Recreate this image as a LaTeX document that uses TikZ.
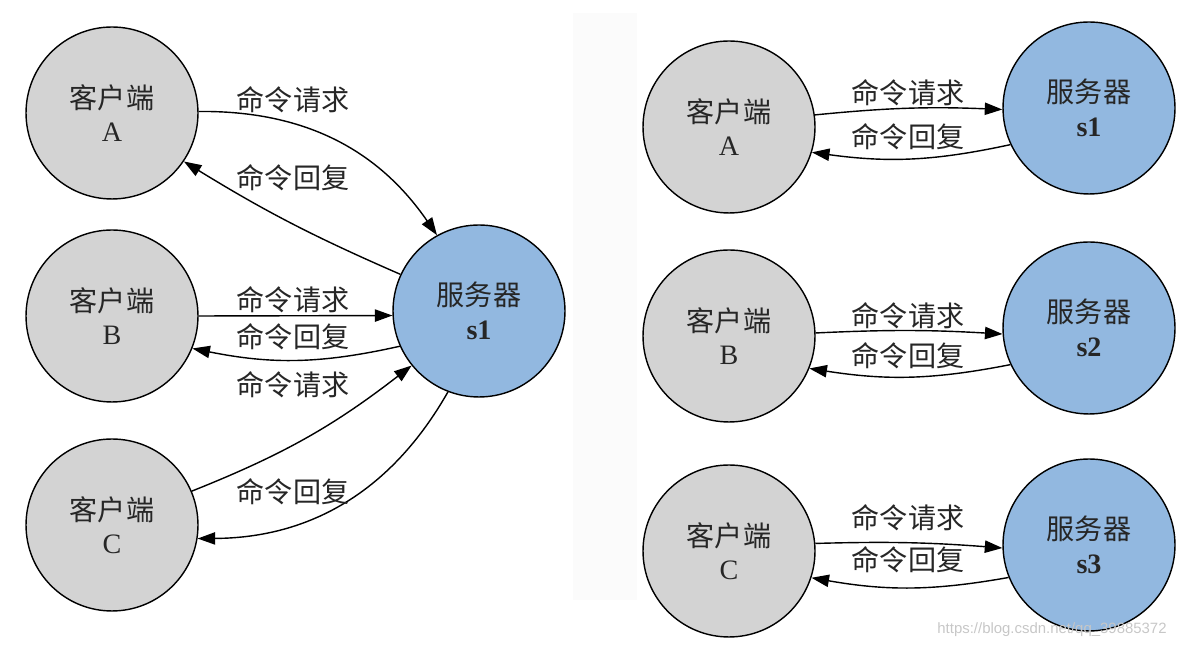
\documentclass[tikz,border=0pt]{standalone}
\usepackage{fontspec}
\setmainfont{Liberation Serif}
\newfontfamily\cjk{Noto Sans CJK SC}
\newfontfamily\wmfont{Liberation Sans}
\usepackage{xcolor}
\usepackage{tikz}
\usetikzlibrary{arrows.meta}

\definecolor{clientgray}{RGB}{211,211,211}
\definecolor{serverblue}{RGB}{146,184,224}

\begin{document}
\begin{tikzpicture}[
  x=0.02cm, y=0.02cm,
  client/.style={
    circle,
    draw=black,
    fill=clientgray,
    minimum size=3.44cm,
    inner sep=0pt,
    line width=0.8pt,
    align=center,
    text=black!85,
    font=\fontsize{16}{19}\selectfont
  },
  server/.style={
    client,
    fill=serverblue
  },
  msg/.style={
    font=\cjk\fontsize{16}{19}\selectfont,
    text=black!85,
    inner sep=0pt
  },
  connection/.style={
    -{Triangle[length=10pt,width=7pt]},
    line width=0.8pt,
    draw=black
  }
]
\useasboundingbox (0,0) rectangle (1183,648);
\fill[black!1.5] (573,635) rectangle (637,48);

% Left: three clients sharing one server
\node[client] (ca) at (112,535) {{\cjk 客户端}\\A};
\node[client] (cb) at (112,332) {{\cjk 客户端}\\B};
\node[client] (cc) at (112,123) {{\cjk 客户端}\\C};
\node[server] (sv) at (479,337) {{\cjk 服务器}\\\textbf{s1}};

\draw[connection] (ca.1) to[bend left=28] (sv.119);
\draw[connection] (sv.155) to[bend left=4] (ca.-34);
\draw[connection] (cb.0) -- (sv.183);
\draw[connection] (sv.204) to[bend left=12] (cb.-22);
\draw[connection] (cc.23) to[bend right=8] (sv.219);
\draw[connection] (sv.249) to[bend left=30] (cc.-9);

\node[msg] (la1) at (293,548) {命令请求};
\node[msg] (la2) at (293,470) {命令回复};
\node[msg] (lb1) at (293,348) {命令请求};
\node[msg] (lb2) at (293,311) {命令回复};
\node[msg] (lc1) at (293,263) {命令请求};
\node[msg] (lc2) at (293,156) {命令回复};

% Right: one server per client
\node[client] (ra) at (729,521) {{\cjk 客户端}\\A};
\node[server] (s1) at (1089,540) {{\cjk 服务器}\\\textbf{s1}};
\node[client] (rb) at (729,312) {{\cjk 客户端}\\B};
\node[server] (s2) at (1089,320) {{\cjk 服务器}\\\textbf{s2}};
\node[client] (rc) at (729,97) {{\cjk 客户端}\\C};
\node[server] (s3) at (1089,103) {{\cjk 服务器}\\\textbf{s3}};

\draw[connection] (ra.8) to[bend left=4] (s1.181);
\draw[connection] (s1.205) to[bend left=10] (ra.-17);
\draw[connection] (rb.2) to[bend left=3] (s2.184);
\draw[connection] (s2.205) to[bend left=10] (rb.-22);
\draw[connection] (rc.5) to[bend left=3] (s3.182);
\draw[connection] (s3.202) to[bend left=10] (rc.-18);

\node[msg] (ra1) at (908,555) {命令请求};
\node[msg] (ra2) at (908,511) {命令回复};
\node[msg] (rb1) at (908,332) {命令请求};
\node[msg] (rb2) at (908,292) {命令回复};
\node[msg] (rc1) at (908,130) {命令请求};
\node[msg] (rc2) at (908,88) {命令回复};

% watermark
\node[font=\wmfont\fontsize{8.5}{10}\selectfont, text=black!22, inner sep=0pt] (wm) at (1052,18) {https://blog.csdn.net/qq\_39885372};

\end{tikzpicture}
\end{document}
